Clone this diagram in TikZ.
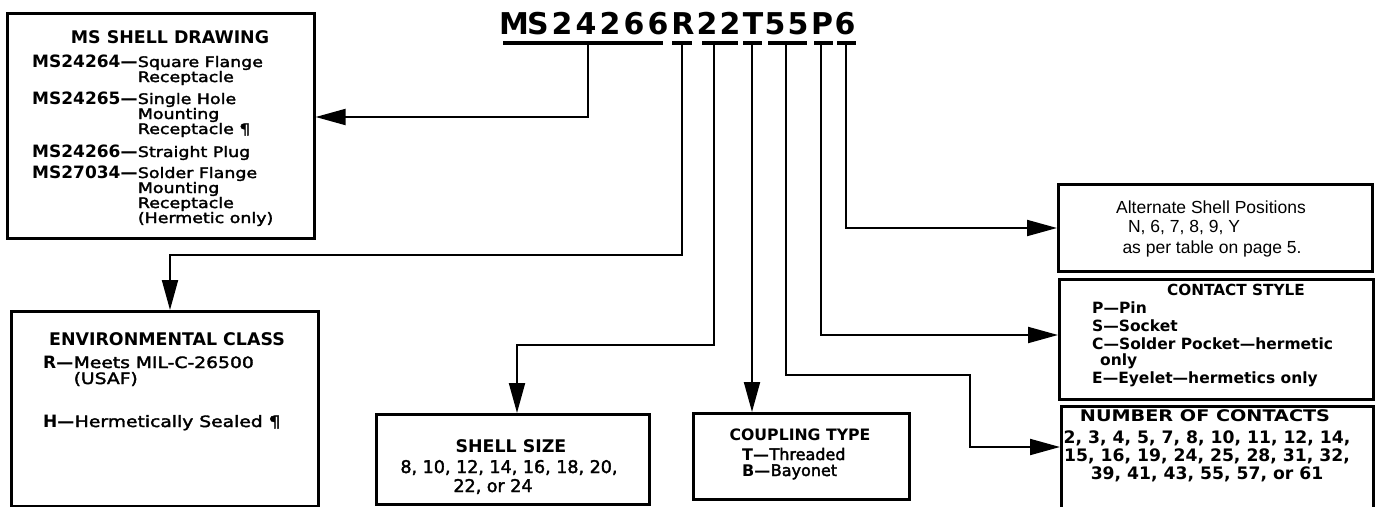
\documentclass[tikz,border=0pt]{standalone}
\usepackage{fontspec}
\setmainfont{DejaVu Sans}
\newfontface\medf{DejaVu Sans}[FakeBold=2.2]
\newfontface\medx{DejaVu Sans}[FakeBold=2.2,FakeStretch=1.2]
\newfontface\hdx{DejaVu Sans Bold}[FakeStretch=1.2]
\newfontfamily\arialf{Liberation Sans}
\usetikzlibrary{arrows.meta}
\begin{document}
\begin{tikzpicture}[x=1pt,y=-1pt,
  box/.style={draw, line width=2.6pt, inner sep=0pt, anchor=north west},
  conn/.style={line width=2pt, -{Triangle[length=30pt,width=16pt]}},
  uline/.style={line width=3.6pt},
  ttl/.style={inner sep=0pt, anchor=base, font=\bfseries\fontsize{30}{32}\selectfont},
  hd/.style={inner sep=0pt, anchor=base, font=\bfseries\fontsize{17.4}{19}\selectfont},
  code/.style={inner sep=0pt, anchor=base west, font=\bfseries\fontsize{17}{19}\selectfont},
  desc/.style={inner sep=0pt, anchor=base west, font=\medx\fontsize{14.5}{16}\selectfont},
  edesc/.style={inner sep=0pt, anchor=base west, font=\medx\fontsize{15.6}{17}\selectfont},
  ctr/.style={inner sep=0pt, anchor=base, font=\medf\fontsize{17.5}{19}\selectfont},
  ar/.style={inner sep=0pt, anchor=base, font=\arialf\fontsize{17.5}{19}\selectfont},
  bl/.style={inner sep=0pt, anchor=base west, font=\bfseries\fontsize{15.5}{17}\selectfont},
  nb/.style={inner sep=0pt, anchor=base, font=\bfseries\fontsize{17.2}{19}\selectfont}]

\useasboundingbox (0,0) rectangle (1375,506);

% ---------- title ----------
\foreach \ch/\xx [count=\i] in {M/514,S/538,2/562,4/586,2/610,6/634,6/658,R/683,2/707,2/730,T/753,5/775,5/798,P/822,6/845}
  \node[ttl] (t\i) at (\xx,34) {\ch};

% underlines
\draw[uline] (503,43) -- (663,43);
\draw[uline] (672,43) -- (692,43);
\draw[uline] (702,43) -- (738,43);
\draw[uline] (743,43) -- (762,43);
\draw[uline] (768,43) -- (807,43);
\draw[uline] (814,43) -- (833,43);
\draw[uline] (837,43) -- (856,43);

\coordinate (sMS) at (588,43);
\coordinate (sR)  at (682,43);
\coordinate (s22) at (714,43);
\coordinate (sT)  at (752,43);
\coordinate (s55) at (786,43);
\coordinate (sP)  at (821,43);
\coordinate (s6)  at (846,43);

% ---------- boxes ----------
\node[box, minimum width=307pt, minimum height=225pt] (ms)   at (6,12) {};
\node[box, minimum width=307pt, minimum height=195pt] (env)  at (10,310) {};
\node[box, minimum width=273pt, minimum height=90pt]  (size) at (375,413) {};
\node[box, minimum width=216pt, minimum height=86pt]  (coup) at (692,412) {};
\node[box, minimum width=314pt, minimum height=87pt]  (alt)  at (1057,183) {};
\node[box, minimum width=314pt, minimum height=120pt] (cst)  at (1058,278) {};
\node[box, minimum width=312pt, minimum height=115pt] (num)  at (1060,405) {};

% ---------- connectors ----------
\draw[conn] (sMS) |- (ms.east |- 0,117);
\draw[conn] (sR) |- (170,255) -- (170,0 |- env.north);
\draw[conn] (s22) |- (517,345) -- (517,0 |- size.north);
\draw[conn] (sT) -- (752,0 |- coup.north);
\draw[conn] (s55) |- (970,375) |- (num.west |- 0,447);
\draw[conn] (sP) |- (cst.west |- 0,335);
\draw[conn] (s6) |- (alt.west |- 0,228);

% ---------- MS shell drawing ----------
\node[hd] (msh) at (170,43) {MS SHELL DRAWING};
\node[code] (c1) at (32,67) {MS24264—};
\node[desc] (d1) at (c1.base east) {Square Flange};
\node[desc] (d1b) at (d1.base west |- 0,82) {Receptacle};
\node[code] (c2) at (32,104) {MS24265—};
\node[desc] (d2) at (c2.base east) {Single Hole};
\node[desc] (d2b) at (d2.base west |- 0,119) {Mounting};
\node[desc] (d2c) at (d2.base west |- 0,134) {Receptacle ¶};
\node[code] (c3) at (32,157) {MS24266—};
\node[desc] (d3) at (c3.base east) {Straight Plug};
\node[code] (c4) at (32,178) {MS27034—};
\node[desc] (d4) at (c4.base east) {Solder Flange};
\node[desc] (d4b) at (d4.base west |- 0,193) {Mounting};
\node[desc] (d4c) at (d4.base west |- 0,208) {Receptacle};
\node[desc] (d4d) at (d4.base west |- 0,223) {(Hermetic only)};

% ---------- environmental class ----------
\node[hd] (envh) at (167,345) {ENVIRONMENTAL CLASS};
\node[code] (e1) at (43,368) {R—};
\node[edesc] (e1d) at (e1.base east) {Meets MIL-C-26500};
\node[edesc] (e1e) at (e1d.base west |- 0,384) {(USAF)};
\node[code] (e2) at (43,427) {H—};
\node[edesc] (e2d) at (e2.base east) {Hermetically Sealed ¶};

% ---------- shell size ----------
\node[hd] (sh) at (511,452) {SHELL SIZE};
\node[ctr] (s1) at (509,473) {8, 10, 12, 14, 16, 18, 20,};
\node[ctr] (s2) at (493,492) {22, or 24};

% ---------- coupling type ----------
\node[hd, font=\bfseries\fontsize{15.7}{17}\selectfont] (ch) at (800,440) {COUPLING TYPE};
\node[code, font=\bfseries\fontsize{16}{18}\selectfont] (ct1) at (742,460) {T—};
\node[desc, font=\medf\fontsize{16}{18}\selectfont] (ct1d) at (ct1.base east) {Threaded};
\node[code, font=\bfseries\fontsize{16}{18}\selectfont] (ct2) at (742,476) {B—};
\node[desc, font=\medf\fontsize{16}{18}\selectfont] (ct2d) at (ct2.base east) {Bayonet};

% ---------- alternate positions ----------
\node[ar] (a1) at (1211,213) {Alternate Shell Positions};
\node[ar] (a2) at (1184,232) {N, 6, 7, 8, 9, Y};
\node[ar] (a3) at (1212,253) {as per table on page 5.};

% ---------- contact style ----------
\node[hd, font=\bfseries\fontsize{15.3}{17}\selectfont] (csh) at (1236,295) {CONTACT STYLE};
\node[bl] (p1) at (1092,313) {P—Pin};
\node[bl] (p2) at (1092,331) {S—Socket};
\node[bl] (p3) at (1092,349) {C—Solder Pocket—hermetic};
\node[bl] (p4) at (1100,365) {only};
\node[bl] (p5) at (1092,383) {E—Eyelet—hermetics only};

% ---------- number of contacts ----------
\node[inner sep=0pt, anchor=base, font=\hdx\fontsize{16}{18}\selectfont] (nh) at (1205,421) {NUMBER OF CONTACTS};
\node[nb] (n1) at (1207,443) {2, 3, 4, 5, 7, 8, 10, 11, 12, 14,};
\node[nb] (n2) at (1207,461) {15, 16, 19, 24, 25, 28, 31, 32,};
\node[nb] (n3) at (1207,479) {39, 41, 43, 55, 57, or 61};
\end{tikzpicture}
\end{document}
